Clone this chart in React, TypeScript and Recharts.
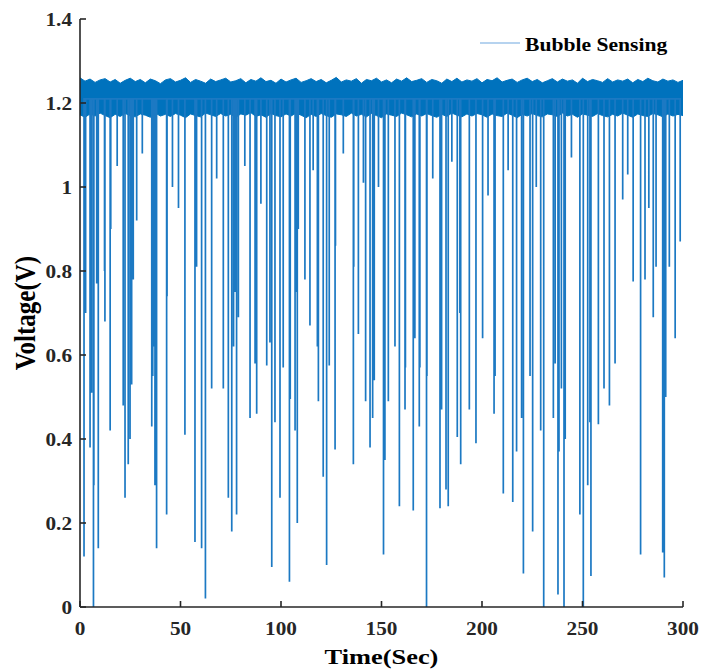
import { ComposedChart, Line, Area, XAxis, YAxis, Legend } from 'recharts';

// 基線ノイズ帯（2.5秒ごとの上限・下限）
const bandTimes = [
  0, 2.5, 5, 7.5, 10, 12.5, 15, 17.5, 20, 22.5, 25, 27.5, 30, 32.5, 35, 37.5, 40, 42.5, 45, 47.5,
  50, 52.5, 55, 57.5, 60, 62.5, 65, 67.5, 70, 72.5, 75, 77.5, 80, 82.5, 85, 87.5, 90, 92.5, 95, 97.5,
  100, 102.5, 105, 107.5, 110, 112.5, 115, 117.5, 120, 122.5, 125, 127.5, 130, 132.5, 135, 137.5, 140, 142.5, 145, 147.5,
  150, 152.5, 155, 157.5, 160, 162.5, 165, 167.5, 170, 172.5, 175, 177.5, 180, 182.5, 185, 187.5, 190, 192.5, 195, 197.5,
  200, 202.5, 205, 207.5, 210, 212.5, 215, 217.5, 220, 222.5, 225, 227.5, 230, 232.5, 235, 237.5, 240, 242.5, 245, 247.5,
  250, 252.5, 255, 257.5, 260, 262.5, 265, 267.5, 270, 272.5, 275, 277.5, 280, 282.5, 285, 287.5, 290, 292.5, 295, 297.5,
  300,
];
const bandHigh = [
  1.260, 1.252, 1.257, 1.249, 1.255, 1.258, 1.250, 1.256, 1.247, 1.254,
  1.259, 1.251, 1.256, 1.248, 1.257, 1.253, 1.246, 1.255, 1.258, 1.250,
  1.254, 1.260, 1.249, 1.256, 1.252, 1.247, 1.257, 1.251, 1.255, 1.259,
  1.250, 1.253, 1.258, 1.248, 1.256, 1.252, 1.260, 1.251, 1.254, 1.247,
  1.257, 1.250, 1.255, 1.259, 1.249, 1.253, 1.258, 1.251, 1.256, 1.248,
  1.254, 1.261, 1.250, 1.255, 1.252, 1.258, 1.247, 1.256, 1.253, 1.259,
  1.250, 1.255, 1.248, 1.257, 1.252, 1.260, 1.251, 1.254, 1.258, 1.249,
  1.256, 1.253, 1.247, 1.257, 1.251, 1.259, 1.250, 1.255, 1.252, 1.258,
  1.248, 1.256, 1.253, 1.260, 1.250, 1.254, 1.257, 1.249, 1.255, 1.259,
  1.251, 1.256, 1.248, 1.253, 1.258, 1.250, 1.257, 1.252, 1.255, 1.247,
  1.259, 1.251, 1.256, 1.253, 1.249, 1.258, 1.250, 1.255, 1.252, 1.257,
  1.248, 1.256, 1.251, 1.259, 1.253, 1.250, 1.257, 1.252, 1.255, 1.249,
  1.254,
];
const bandLow = [
  1.172, 1.166, 1.174, 1.169, 1.176, 1.170, 1.165, 1.173, 1.168, 1.175,
  1.170, 1.167, 1.174, 1.171, 1.166, 1.176, 1.169, 1.173, 1.168, 1.175,
  1.171, 1.165, 1.174, 1.170, 1.167, 1.176, 1.172, 1.168, 1.175, 1.169,
  1.173, 1.166, 1.174, 1.171, 1.177, 1.168, 1.172, 1.166, 1.175, 1.170,
  1.167, 1.174, 1.169, 1.176, 1.171, 1.165, 1.173, 1.168, 1.175, 1.170,
  1.166, 1.174, 1.172, 1.168, 1.176, 1.169, 1.173, 1.167, 1.175, 1.170,
  1.165, 1.174, 1.171, 1.168, 1.176, 1.172, 1.167, 1.174, 1.169, 1.175,
  1.170, 1.166, 1.173, 1.168, 1.176, 1.171, 1.167, 1.174, 1.169, 1.175,
  1.172, 1.166, 1.174, 1.170, 1.168, 1.176, 1.171, 1.165, 1.173, 1.169,
  1.175, 1.170, 1.167, 1.174, 1.172, 1.168, 1.176, 1.169, 1.173, 1.166,
  1.174, 1.171, 1.168, 1.175, 1.170, 1.167, 1.173, 1.169, 1.176, 1.171,
  1.166, 1.174, 1.170, 1.168, 1.175, 1.172, 1.167, 1.174, 1.169, 1.173,
  1.170,
];

// 気泡による電圧降下（時刻 [s] と最小電圧 [V]）
const spikeTimes = [
  2.0, 2.8, 5.0, 5.8, 6.7, 6.9, 8.3, 9.1, 12.2, 12.4, 15.0, 15.3, 18.5, 21.5, 22.4, 24.0, 24.9, 25.7, 26.5, 28.2,
  31.0, 35.7, 36.2, 36.5, 37.3, 38.1, 43.1, 43.3, 46.0, 49.0, 52.2, 57.2, 58.0, 60.5, 62.4, 65.5, 68.0, 71.3, 73.8, 75.5,
  76.4, 77.1, 77.9, 78.8, 82.0, 84.6, 87.1, 87.9, 90.0, 92.9, 94.5, 95.4, 97.0, 99.5, 101.1, 104.2, 104.6, 107.0, 107.6, 108.1,
  108.6, 111.9, 114.4, 116.0, 118.1, 118.6, 121.0, 122.7, 124.0, 126.9, 127.1, 131.0, 136.0, 136.2, 138.5, 141.0, 142.1, 144.3, 145.6, 146.4,
  148.5, 151.0, 151.7, 153.4, 156.7, 158.9, 161.7, 161.9, 165.8, 166.6, 168.8, 169.1, 172.4, 172.6, 175.5, 179.1, 179.9, 182.1, 183.2, 185.0,
  187.7, 189.0, 189.4, 193.7, 197.0, 200.3, 203.0, 206.0, 206.5, 210.6, 213.0, 215.3, 217.2, 219.7, 220.6, 223.9, 225.2, 227.0, 229.2, 230.7,
  235.5, 236.4, 237.8, 238.3, 239.5, 240.8, 241.4, 244.5, 248.7, 250.4, 252.6, 253.7, 254.2, 257.9, 260.7, 263.4, 266.2, 270.0, 272.5, 275.2,
  278.9, 281.1, 283.0, 285.2, 286.6, 289.9, 290.7, 291.4, 293.2, 296.1, 298.6,
];
const spikeDepths = [
  0.12, 0.70, 0.38, 0.51, 0.0, 0.29, 0.77, 0.14, 0.80, 0.68, 0.42, 0.90, 1.05, 0.48, 0.26, 0.34, 0.40, 0.53, 0.78, 0.92,
  1.08, 0.43, 0.55, 0.62, 0.29, 0.14, 0.22, 0.74, 1.0, 0.95, 0.41, 0.155, 0.81, 0.14, 0.02, 0.52, 1.02, 0.52, 0.26, 0.18,
  0.62, 0.75, 0.22, 0.69, 1.05, 0.45, 0.58, 0.46, 0.96, 0.575, 0.63, 0.095, 0.44, 0.26, 0.57, 0.06, 0.495, 0.42, 0.75, 0.20,
  0.90, 0.78, 0.67, 1.04, 0.62, 0.49, 0.31, 0.10, 0.575, 0.375, 0.86, 1.08, 0.34, 0.81, 0.65, 1.01, 0.49, 0.38, 0.45, 0.54,
  1.0, 0.125, 0.35, 0.49, 0.62, 0.24, 0.47, 0.57, 0.23, 0.64, 0.43, 0.57, 0.0, 0.55, 1.02, 0.235, 0.47, 0.28, 0.24, 1.06,
  0.405, 0.70, 0.34, 0.47, 0.39, 0.64, 0.98, 0.46, 0.55, 0.27, 1.04, 0.25, 0.37, 0.45, 0.08, 0.55, 0.18, 1.0, 0.42, 0.0,
  0.45, 0.58, 0.03, 0.37, 0.52, 0.0, 0.40, 1.07, 0.22, 0.0, 0.29, 0.44, 0.074, 0.435, 0.52, 0.48, 0.58, 0.97, 1.03, 0.775,
  0.125, 0.78, 0.95, 0.69, 0.81, 0.13, 0.07, 0.50, 0.81, 0.64, 0.87,
];

const xTicks = [0, 50, 100, 150, 200, 250, 300];
const yTicks = [0, 0.2, 0.4, 0.6, 0.8, 1, 1.2, 1.4];

const SPIKE_TOP = 1.21; // 帯の内側で次の降下へつなぐ
const FONT = '"Liberation Serif", "Times New Roman", serif';
const AXIS = '#262626';

const bandData = bandTimes.map((t, i) => ({ t, band: [bandLow[i], bandHigh[i]], hi: bandHigh[i] }));
const spikeData = spikeTimes.flatMap((t, i) => [
  { t, v: SPIKE_TOP },
  { t, v: spikeDepths[i] },
  { t, v: SPIKE_TOP },
]);

const XTick = ({ x, y, payload }: any) => (
  <text
    transform={`translate(${x},${y + 28}) scale(1.18,1)`}
    textAnchor="middle"
    fontFamily={FONT}
    fontWeight="bold"
    fontSize={18}
    fill={AXIS}
  >
    {String(payload.value)}
  </text>
);

const YTick = ({ x, y, payload }: any) => (
  <text
    transform={`translate(${x - 8},${y + 6.5}) scale(1.18,1)`}
    textAnchor="end"
    fontFamily={FONT}
    fontWeight="bold"
    fontSize={18}
    fill={AXIS}
  >
    {String(payload.value)}
  </text>
);

const XTitle = ({ viewBox }: any) => (
  <text
    transform={`translate(${viewBox.x + viewBox.width / 2},664) scale(1.2,1)`}
    textAnchor="middle"
    fontFamily={FONT}
    fontWeight="bold"
    fontSize={22}
    fill="#000"
  >
    Time(Sec)
  </text>
);

const YTitle = ({ viewBox }: any) => (
  <text
    transform={`translate(35,${viewBox.y + viewBox.height / 2}) scale(1.2,1) rotate(-90)`}
    textAnchor="middle"
    fontFamily={FONT}
    fontWeight="bold"
    fontSize={25}
    fill="#000"
  >
    Voltage(V)
  </text>
);

const LegendBox = () => (
  <svg width={200} height={30}>
    <line x1={2} y1={13} x2={42} y2={13} stroke="#9ec5ea" strokeWidth={1.5} />
    <text
      transform="translate(47,21) scale(1.2,1)"
      fontFamily={FONT}
      fontWeight="bold"
      fontSize={18}
      fill="#000"
    >
      Bubble Sensing
    </text>
  </svg>
);

export default function App() {
  return (
    <div style={{ position: 'absolute', left: 0, top: 0, background: '#fff' }}>
      <ComposedChart width={702} height={671} margin={{ top: 19, right: 19, bottom: 34, left: 20 }}>
        <XAxis
          xAxisId={0}
          dataKey="t"
          type="number"
          domain={[0, 300]}
          ticks={xTicks}
          allowDataOverflow
          height={30}
          tickSize={-6}
          tickMargin={6}
          tick={<XTick />}
          axisLine={{ stroke: AXIS, strokeWidth: 1.6 }}
          tickLine={{ stroke: AXIS, strokeWidth: 1.6 }}
          label={{ content: (props: any) => <XTitle {...props} /> }}
        />
        <XAxis
          xAxisId="top"
          orientation="top"
          dataKey="t"
          type="number"
          domain={[0, 300]}
          ticks={xTicks}
          allowDataOverflow
          height={0}
          tickSize={-6}
          tick={false}
          axisLine={{ stroke: AXIS, strokeWidth: 1.6 }}
          tickLine={{ stroke: AXIS, strokeWidth: 1.6 }}
        />
        <YAxis
          yAxisId={0}
          type="number"
          domain={[0, 1.4]}
          ticks={yTicks}
          allowDataOverflow
          width={60}
          tickSize={-6}
          tickMargin={6}
          tick={<YTick />}
          axisLine={{ stroke: AXIS, strokeWidth: 1.6 }}
          tickLine={{ stroke: AXIS, strokeWidth: 1.6 }}
          label={{ content: (props: any) => <YTitle {...props} /> }}
        />
        <YAxis
          yAxisId="right"
          orientation="right"
          type="number"
          domain={[0, 1.4]}
          ticks={yTicks}
          allowDataOverflow
          width={0}
          tickSize={-6}
          tick={false}
          axisLine={{ stroke: AXIS, strokeWidth: 1.6 }}
          tickLine={{ stroke: AXIS, strokeWidth: 1.6 }}
        />
        <Legend
          layout="horizontal"
          verticalAlign="middle"
          align="center"
          content={<LegendBox />}
          wrapperStyle={{ position: 'absolute', top: 30, left: 478, width: 200, height: 30 }}
        />
        <Line
          data={spikeData}
          dataKey="v"
          xAxisId={0}
          yAxisId={0}
          type="linear"
          stroke="#1c79c3"
          strokeWidth={1.7}
          dot={false}
          activeDot={false}
          isAnimationActive={false}
          name="Bubble Sensing"
        />
        <Area
          data={bandData}
          dataKey="band"
          xAxisId={0}
          yAxisId={0}
          type="linear"
          stroke="#0072BD"
          strokeWidth={1}
          fill="#0072BD"
          fillOpacity={1}
          dot={false}
          activeDot={false}
          isAnimationActive={false}
          legendType="none"
        />
        {/* 上軸・右軸を描くための透明系列 */}
        <Line
          data={bandData}
          dataKey="hi"
          xAxisId="top"
          yAxisId="right"
          stroke="none"
          dot={false}
          activeDot={false}
          isAnimationActive={false}
          legendType="none"
        />
      </ComposedChart>
    </div>
  );
}
